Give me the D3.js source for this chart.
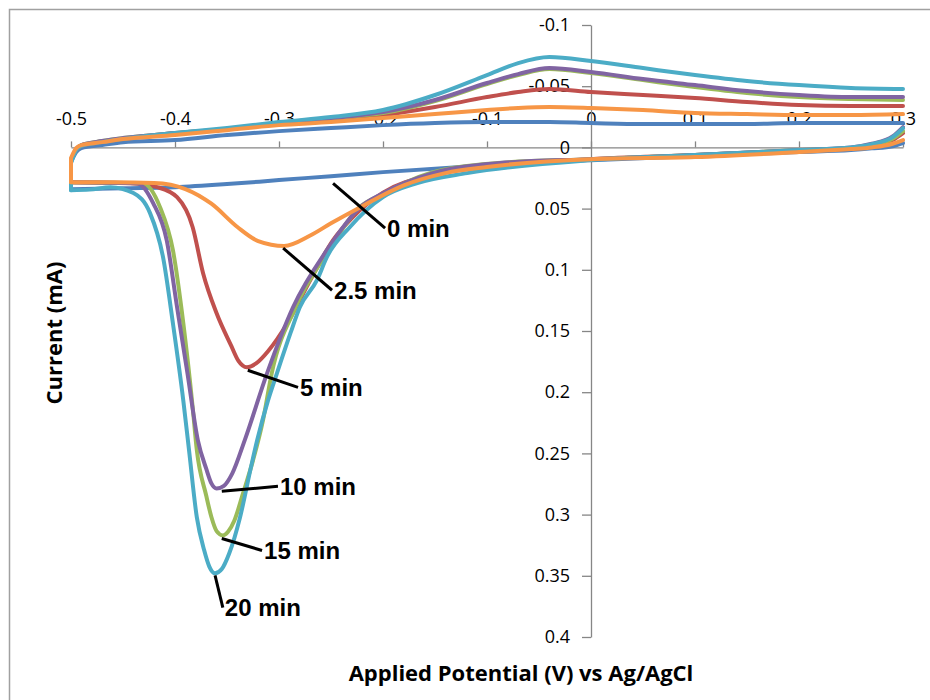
<!DOCTYPE html>
<html>
<head>
<meta charset="utf-8">
<script src="https://cdn.jsdelivr.net/npm/d3@7"></script>
<style>
body { margin: 0; background: #fff; }
svg { display: block; }
.axis .tick text { font-family: "Open Sans", sans-serif; font-size: 18px; fill: #000; }
.axis path, .axis line { stroke: #868686; stroke-width: 1.3; }
.title { font-family: "Open Sans", sans-serif; font-weight: bold; font-size: 22px; fill: #000; }
.callout text { font-family: "Liberation Sans", Arial, sans-serif; font-weight: bold; font-size: 24px; fill: #000; }
</style>
</head>
<body>
<svg id="chart" width="930" height="700"></svg>
<script>
// tick values
const xTicks = [-0.5, -0.4, -0.3, -0.2, -0.1, 0, 0.1, 0.2, 0.3];
const yTicks = [-0.1, -0.05, 0, 0.05, 0.1, 0.15, 0.2, 0.25, 0.3, 0.35, 0.4];

// series (in Excel plot order: last one on top)
const seriesNames = ["0 min", "5 min", "15 min", "10 min", "20 min", "2.5 min"];
const seriesColors = ["#4F81BD", "#C0504D", "#9BBB59", "#8064A2", "#4BACC6", "#F79646"];

// anodic sweep (upper branch), shared potential grid
const upperE = [-0.5, -0.495, -0.49, -0.47, -0.45, -0.4, -0.35, -0.3, -0.25, -0.2, -0.15, -0.1, -0.07, -0.04, 0, 0.05, 0.1, 0.15, 0.2, 0.25, 0.3];
const upper0 = [0.012, 0.0038, 0.0006, -0.0019, -0.0043, -0.006, -0.0101, -0.0133, -0.0158, -0.0182, -0.0199, -0.0207, -0.0207, -0.0207, -0.0199, -0.0191, -0.0191, -0.0191, -0.0199, -0.0199, -0.0199];
const upper5 = [0.0104, 0.0022, -0.0011, -0.0043, -0.0068, -0.0109, -0.015, -0.0191, -0.0223, -0.0264, -0.033, -0.0411, -0.0452, -0.0477, -0.0452, -0.0428, -0.0403, -0.037, -0.0346, -0.0338, -0.0338];
const upper15 = [0.0104, 0.0014, -0.0019, -0.0052, -0.0076, -0.0117, -0.015, -0.0199, -0.024, -0.028, -0.0379, -0.0518, -0.0591, -0.064, -0.0608, -0.055, -0.0493, -0.0444, -0.0411, -0.0395, -0.0387];
const upper10 = [0.0104, 0.0014, -0.0019, -0.0052, -0.0076, -0.0117, -0.015, -0.0199, -0.024, -0.0289, -0.0387, -0.0526, -0.0599, -0.0648, -0.0616, -0.0558, -0.0509, -0.046, -0.0428, -0.0411, -0.0411];
const upper20 = [0.0128, 0.0022, -0.0011, -0.0043, -0.0068, -0.0117, -0.0158, -0.0207, -0.0248, -0.0305, -0.0428, -0.0591, -0.0689, -0.0738, -0.0706, -0.0648, -0.0591, -0.0542, -0.0509, -0.0485, -0.0477];
const upper2_5 = [0.0087, 0.0006, -0.0019, -0.0043, -0.0068, -0.0101, -0.0141, -0.0182, -0.0207, -0.024, -0.0272, -0.0305, -0.0322, -0.033, -0.0322, -0.0305, -0.0281, -0.0272, -0.0264, -0.0264, -0.0272];

// cathodic sweep (lower branch), [potential, current] from 0.3 V down to -0.5 V
const lower0 = [[0.3, -0.0035], [0.29, -0.001], [0.27, 0.0008], [0.25, 0.0022], [0.2, 0.0038], [0.1, 0.0071], [0, 0.0104], [-0.1, 0.0145], [-0.2, 0.0202], [-0.25, 0.0235], [-0.3, 0.0267], [-0.35, 0.03], [-0.4, 0.0325], [-0.45, 0.0333], [-0.5, 0.0341]];
const lower5 = [[0.3, -0.0117], [0.29, -0.006], [0.27, -0.001], [0.25, 0.001], [0.2, 0.0025], [0.1, 0.0063], [0, 0.0096], [-0.1, 0.016], [-0.15, 0.022], [-0.2, 0.037], [-0.229, 0.057], [-0.248, 0.0758], [-0.27, 0.1085], [-0.292, 0.1437], [-0.31, 0.166], [-0.322, 0.1765], [-0.331, 0.1797], [-0.339, 0.1745], [-0.346, 0.162], [-0.36, 0.1355], [-0.373, 0.1028], [-0.383, 0.0652], [-0.398, 0.0407], [-0.417, 0.0325], [-0.443, 0.0292], [-0.5, 0.0284]];
const lower15 = [[0.3, -0.0133], [0.29, -0.007], [0.27, -0.002], [0.25, 0.0005], [0.2, 0.0022], [0.1, 0.0063], [0, 0.0096], [-0.09, 0.0128], [-0.155, 0.021], [-0.2, 0.038], [-0.224, 0.05], [-0.252, 0.084], [-0.284, 0.1306], [-0.307, 0.1846], [-0.3154, 0.223], [-0.325, 0.2557], [-0.3346, 0.2827], [-0.343, 0.305], [-0.349, 0.314], [-0.354, 0.317], [-0.36, 0.3135], [-0.365, 0.302], [-0.37, 0.2844], [-0.379, 0.2475], [-0.383, 0.2124], [-0.392, 0.1437], [-0.402, 0.084], [-0.4144, 0.0488], [-0.431, 0.0292], [-0.5, 0.0284]];
const lower10 = [[0.3, -0.0166], [0.29, -0.009], [0.27, -0.003], [0.25, 0.0], [0.2, 0.0022], [0.1, 0.0063], [0, 0.0096], [-0.0875, 0.0128], [-0.152, 0.021], [-0.2, 0.0374], [-0.222, 0.0488], [-0.254, 0.084], [-0.2865, 0.1306], [-0.3115, 0.1846], [-0.333, 0.2393], [-0.345, 0.2665], [-0.353, 0.2765], [-0.36, 0.2786], [-0.365, 0.2745], [-0.37, 0.2625], [-0.378, 0.2393], [-0.388, 0.1846], [-0.398, 0.1306], [-0.408, 0.0758], [-0.421, 0.0455], [-0.4365, 0.0292], [-0.5, 0.0284]];
const lower20 = [[0.3, -0.0157], [0.29, -0.0084], [0.27, -0.0027], [0.25, 0.0], [0.2, 0.0022], [0.1, 0.0063], [0, 0.0104], [-0.119, 0.021], [-0.167, 0.0292], [-0.2, 0.0406], [-0.232, 0.0652], [-0.254, 0.0897], [-0.2635, 0.1085], [-0.28, 0.1306], [-0.289, 0.1518], [-0.302, 0.1846], [-0.3106, 0.2069], [-0.321, 0.2393], [-0.327, 0.2614], [-0.3375, 0.3023], [-0.348, 0.332], [-0.355, 0.3445], [-0.3615, 0.348], [-0.367, 0.3425], [-0.372, 0.329], [-0.379, 0.3023], [-0.3865, 0.2475], [-0.392, 0.2069], [-0.402, 0.1437], [-0.4115, 0.0897], [-0.424, 0.0537], [-0.44, 0.0373], [-0.462, 0.0325], [-0.482, 0.0345], [-0.5, 0.035]];
const lower2_5 = [[0.3, -0.006], [0.29, -0.003], [0.27, 0.0], [0.25, 0.0014], [0.2, 0.0038], [0.1, 0.0079], [0, 0.0096], [-0.1, 0.016], [-0.14, 0.021], [-0.18, 0.031], [-0.22, 0.048], [-0.25, 0.062], [-0.27, 0.072], [-0.295, 0.0805], [-0.32, 0.0765], [-0.34, 0.065], [-0.365, 0.046], [-0.39, 0.034], [-0.42, 0.029], [-0.46, 0.0284], [-0.5, 0.0284]];

const upperSets = [upper0, upper5, upper15, upper10, upper20, upper2_5];
const lowerSets = [lower0, lower5, lower15, lower10, lower20, lower2_5];

// callout labels: from point on curve to label anchor, in data units
const calloutLabels = ["0 min", "2.5 min", "5 min", "10 min", "15 min", "20 min"];
const calloutFrom = [[-0.248, 0.0293], [-0.296, 0.0823], [-0.33, 0.1821], [-0.355, 0.281], [-0.355, 0.3195], [-0.3615, 0.3497]];
const calloutTo = [[-0.198, 0.066], [-0.249, 0.1167], [-0.2817, 0.196], [-0.301, 0.2769], [-0.3163, 0.3293], [-0.354, 0.376]];

const svg = d3.select("#chart");
const W = 930, H = 700;

svg.append("rect").attr("width", W).attr("height", H).attr("fill", "#fff");
// chart area border (only top/left fall inside the picture)
svg.append("rect")
    .attr("x", 9.5).attr("y", 9.5)
    .attr("width", W).attr("height", H)
    .attr("fill", "none").attr("stroke", "#a0a0a0").attr("stroke-width", 1.5);

const x = d3.scaleLinear().domain([-0.5, 0.3]).range([71, 903]);
const y = d3.scaleLinear().domain([-0.1, 0.4]).range([25, 637]);

const fmt = d => d === 0 ? "0" : String(+d.toFixed(2));

// axes cross at zero
svg.append("g")
    .attr("class", "axis")
    .attr("transform", `translate(0,${y(0)})`)
    .call(d3.axisTop(x).tickValues(xTicks).tickFormat(fmt).tickSize(6).tickSizeOuter(0).tickPadding(16));

svg.append("g")
    .attr("class", "axis")
    .attr("transform", `translate(${x(0)},0)`)
    .call(d3.axisLeft(y).tickValues(yTicks).tickFormat(fmt).tickSize(9).tickSizeOuter(0).tickPadding(12));

// curves: each branch is monotone in potential
const line = d3.line()
    .x(d => x(d[0]))
    .y(d => y(d[1]))
    .curve(d3.curveMonotoneX);

const series = seriesNames.map((name, i) => ({
    name,
    color: seriesColors[i],
    lower: lowerSets[i].slice().reverse(),
    upper: upperE.map((e, k) => [e, upperSets[i][k]])
}));

const curves = svg.append("g").selectAll("g")
    .data(series)
    .enter().append("g")
    .attr("fill", "none")
    .attr("stroke", d => d.color)
    .attr("stroke-width", 4)
    .attr("stroke-linejoin", "round")
    .attr("stroke-linecap", "round");

curves.append("path").attr("d", d => line(d.lower));
// switch at -0.5 V: vertical jump, then the anodic sweep
curves.append("path").attr("d", d =>
    `M${x(d.lower[0][0])},${y(d.lower[0][1])}` + line(d.upper).replace(/^M/, "L"));

// callouts
const callout = svg.append("g").attr("class", "callout")
    .selectAll("g")
    .data(calloutLabels.map((t, i) => ({ t, from: calloutFrom[i], to: calloutTo[i] })))
    .enter().append("g");

callout.append("line")
    .attr("x1", d => x(d.from[0])).attr("y1", d => y(d.from[1]))
    .attr("x2", d => x(d.to[0])).attr("y2", d => y(d.to[1]))
    .attr("stroke", "#000").attr("stroke-width", 3);

callout.append("text")
    .attr("x", d => x(d.to[0]) + 2)
    .attr("y", d => y(d.to[1]))
    .attr("dy", "0.36em")
    .text(d => d.t);

// axis titles
svg.append("text")
    .attr("class", "title")
    .attr("x", 521).attr("y", 673)
    .attr("text-anchor", "middle")
    .attr("dy", "0.35em")
    .text("Applied Potential (V) vs Ag/AgCl");

svg.append("text")
    .attr("class", "title")
    .attr("transform", "translate(54,333) rotate(-90)")
    .attr("text-anchor", "middle")
    .attr("dy", "0.35em")
    .text("Current (mA)");
</script>
</body>
</html>
